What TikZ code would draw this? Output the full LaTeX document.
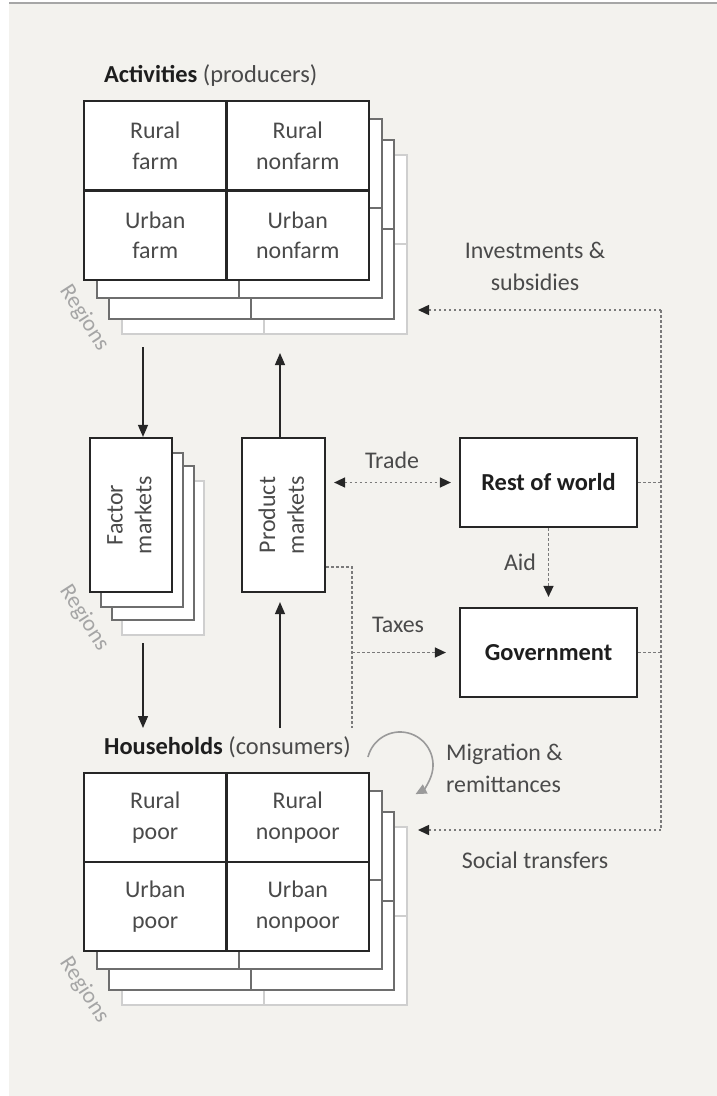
\documentclass[tikz,border=0pt]{standalone}
\usepackage{fontspec}
\setmainfont{Carlito}
\usetikzlibrary{arrows.meta,calc}
\definecolor{bgc}{HTML}{F3F2EE}
\definecolor{boxc}{HTML}{262626}
\definecolor{layc}{HTML}{6E6E6E}
\definecolor{faintc}{HTML}{CFCFCF}
\definecolor{txt}{HTML}{4A4A4A}
\definecolor{darkc}{HTML}{1E1E1E}
\definecolor{dotc}{HTML}{7A7A7A}
\definecolor{regc}{HTML}{A5A5A5}
\definecolor{loopc}{HTML}{9A9A9A}
\begin{document}
\begin{tikzpicture}[x=1bp,y=-1bp,
  cell/.style={draw=boxc, line width=2.2bp, fill=white, minimum width=142.5bp, minimum height=89.5bp,
    inner sep=0pt, align=center, font=\fontsize{24}{31}\selectfont, text=txt},
  tallbox/.style={draw=boxc, line width=2.2bp, fill=white, minimum width=83bp, minimum height=154bp,
    inner sep=0pt, align=center, font=\fontsize{24}{30}\selectfont, text=txt},
  widebox/.style={draw=boxc, line width=2.2bp, fill=white, minimum width=177bp, minimum height=89bp,
    inner sep=0pt, align=center, font=\fontsize{24.5}{30}\selectfont\bfseries, text=darkc},
  lbl/.style={font=\fontsize{24}{32}\selectfont, text=txt, align=center, inner sep=0pt},
  reglbl/.style={font=\fontsize{23}{28}\selectfont, text=regc, rotate=-57, inner sep=0pt},
  head/.style={font=\fontsize{24.5}{30}\selectfont, text=txt, inner sep=0pt},
  solidarrow/.style={draw=boxc, line width=1.3bp, -{Triangle[length=12bp,width=10bp]}},
  dotline/.style={draw=dotc, line width=1.5bp, dash pattern=on 2.5bp off 2.5bp},
  dotarrow/.style={dotline, -{Triangle[length=11bp,width=10bp,color=boxc]}},
  dotboth/.style={dotline, {Triangle[length=11bp,width=10bp,color=boxc]}-{Triangle[length=11bp,width=10bp,color=boxc]}},
  looparrow/.style={draw=loopc, line width=1.6bp, -{Triangle[length=11bp,width=10bp]}}
]
\useasboundingbox (0,0) rectangle (717,1096);
\fill[bgc] (9,3) rectangle (717,1096);
\draw[draw=gray!70, line width=1.5bp] (9,3) -- (717,3);

% ---------- Activities stack ----------
\foreach \dx/\dy/\c/\w in {38/54/faintc/1.2, 25/39/layc/1.6, 13/18/layc/1.6}{
  \draw[draw=\c, line width=\w bp, fill=white] (84+\dx,101+\dy) rectangle ++(285,179);
  \draw[draw=\c, line width=\w bp] (226+\dx,101+\dy) -- ++(0,179) (84+\dx,190+\dy) -- ++(285,0);
}
\node[cell] (rf) at (155.25,145.75) {Rural\\farm};
\node[cell] (rn) at (297.75,145.75) {Rural\\nonfarm};
\node[cell] (uf) at (155.25,235.25) {Urban\\farm};
\node[cell] (un) at (297.75,235.25) {Urban\\nonfarm};
\node[head, anchor=base west] (actlbl) at (104,82) {\textbf{\color{darkc}Activities} (producers)};
\node[reglbl] (reg1) at (84,318) {Regions};

% ---------- Factor markets stack ----------
\foreach \dx/\dy/\c/\w in {32/43/faintc/1.2, 22/28/layc/1.6, 11/15/layc/1.6}{
  \draw[draw=\c, line width=\w bp, fill=white] (90+\dx,438+\dy) rectangle ++(82,154);
}
\node[tallbox, minimum width=82bp] (fm) at (131,515) {\rotatebox{90}{\begin{tabular}{@{}c@{}}Factor\\[-1pt]markets\end{tabular}}};
\node[reglbl] (reg2) at (84,618) {Regions};

% ---------- Product markets ----------
\node[tallbox] (pm) at (283.5,515) {\rotatebox{90}{\begin{tabular}{@{}c@{}}Product\\[-1pt]markets\end{tabular}}};

% ---------- Rest of world / Government ----------
\node[widebox] (rw) at (548.5,482.5) {Rest of world};
\node[widebox] (gov) at (548.5,652.5) {Government};

% ---------- Households stack ----------
\foreach \dx/\dy/\c/\w in {38/54/faintc/1.2, 25/39/layc/1.6, 13/18/layc/1.6}{
  \draw[draw=\c, line width=\w bp, fill=white] (84+\dx,773+\dy) rectangle ++(285,178);
  \draw[draw=\c, line width=\w bp] (226+\dx,773+\dy) -- ++(0,178) (84+\dx,862+\dy) -- ++(285,0);
}
\node[cell, minimum height=89bp] (rp) at (155.25,817.5) {Rural\\poor};
\node[cell, minimum height=89bp] (rnp) at (297.75,817.5) {Rural\\nonpoor};
\node[cell, minimum height=89bp] (up) at (155.25,906.5) {Urban\\poor};
\node[cell, minimum height=89bp] (unp) at (297.75,906.5) {Urban\\nonpoor};
\node[head, anchor=base west] (hhlbl) at (104,754) {\textbf{\color{darkc}Households} (consumers)};
\node[reglbl] (reg3) at (84,990) {Regions};

% ---------- Solid flows ----------
\coordinate (actdown) at (143,347);
\draw[solidarrow] (actdown) -- (actdown |- fm.north);
\coordinate (fmdown) at (143,643);
\coordinate (hhtop) at (143,728);
\draw[solidarrow] (fmdown) -- (hhtop);
\coordinate (hhup) at (280,728);
\draw[solidarrow, shorten >=9bp] (hhup) -- (hhup |- pm.south);
\coordinate (acttip) at (280,353);
\draw[solidarrow] (pm.north -| acttip) -- (acttip);

% ---------- Dotted flows ----------
\draw[dotboth, shorten <=8bp, shorten >=8bp] (rw.west -| pm.east) -- (rw.west);
\node[lbl] (trade) at (392,460) {Trade};

\draw[dotarrow, shorten >=10bp] (rw.south) -- (gov.north);
\node[lbl] (aid) at (520,562) {Aid};

\coordinate (tx) at (352,567);
\coordinate (txend) at (352,728);
\draw[dotline] (tx -| pm.east) -- (tx) -- (txend);
\draw[dotarrow, shorten >=13bp] (tx |- gov.west) -- (gov.west);
\node[lbl] (taxes) at (398,625) {Taxes};

\coordinate (rtop) at (661,310);
\coordinate (rbot) at (661,830);
\coordinate (invend) at (418,310);
\coordinate (socend) at (418,830);
\draw[dotline] (rtop) -- (rbot);
\draw[dotline] (rw.east) -- (rw.east -| rtop);
\draw[dotline] (gov.east) -- (gov.east -| rtop);
\draw[dotarrow] (rtop) -- (invend);
\draw[dotarrow] (rbot) -- (socend);
\node[lbl] (inv) at (535,266) {Investments \&\\subsidies};
\node[lbl] (soc) at (535,860) {Social transfers};

% ---------- Migration loop ----------
\coordinate (loopstart) at (368,757);
\draw[looparrow] (loopstart) arc[start angle=166, end angle=-62, radius=33bp];
\node[lbl, align=left, anchor=west] (mig) at (446,768) {Migration \&\\remittances};
\end{tikzpicture}
\end{document}
